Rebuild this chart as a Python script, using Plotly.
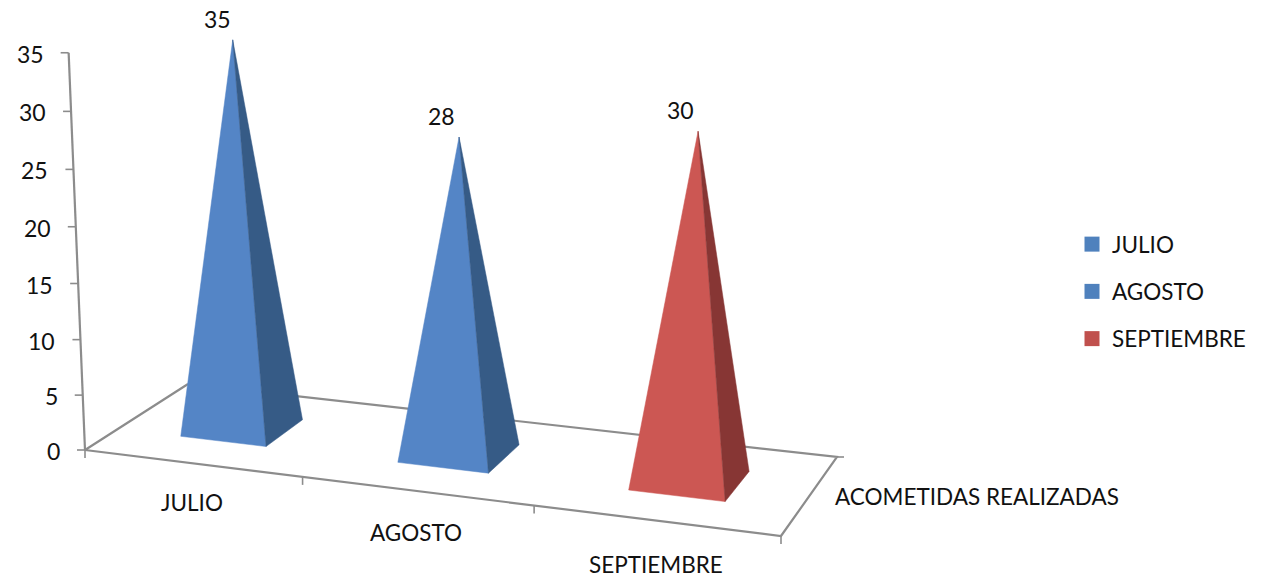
import numpy as np
import plotly.graph_objects as go

# ---- data ----
categories = ["JULIO", "AGOSTO", "SEPTIEMBRE"]
values = [35, 28, 30]
value_ticks = [0, 5, 10, 15, 20, 25, 30, 35]
series_name = "ACOMETIDAS REALIZADAS"
front_colors = ["#5485C6", "#5485C6", "#CC5753"]
side_colors = ["#365B86", "#365B86", "#873634"]
legend_colors = ["#4F81BD", "#4F81BD", "#C0504D"]

# ---- oblique 3D view of the chart box (category, depth, value) -> plot axes ----
FONT = "Lato"
GREY = "#8C8C8C"
TEXT = "#111111"
box_src = [(0, 0), (3, 0), (3, 1), (0, 1)]
box_dst = [(85, 450), (781, 536), (837, 457), (188, 384)]


def _floor_matrix():
    A, b = [], []
    for (s, t), (u, v) in zip(box_src, box_dst):
        A.append([s, t, 1, 0, 0, 0, -u * s, -u * t]); b.append(u)
        A.append([0, 0, 0, s, t, 1, -v * s, -v * t]); b.append(v)
    return np.append(np.linalg.solve(np.array(A, float), np.array(b, float)), 1).reshape(3, 3)


H = _floor_matrix()


def project(cat, depth, value=0.0):
    w = H @ np.array([cat, depth, 1.0])
    u, v = w[0] / w[2], w[1] / w[2]
    lift = value + 0.0011 * value * (value - 35)  # foreshortening of the value axis
    return (u + lift * 0.00125 * (u - 459), v - lift * (11.09 + 0.0118 * (v - 428)))


def line(points, width=2.2):
    xs, ys = zip(*points)
    return go.Scatter(x=xs, y=ys, mode="lines", line=dict(color=GREY, width=width),
                      showlegend=False, hoverinfo="skip")


fig = go.Figure()

# box frame
top = max(value_ticks)
fig.add_trace(line([project(0, 0), project(0, 0, top)]))
fig.add_trace(line([project(0, 1), project(0, 0), project(3, 0), project(3, 1), project(0, 1)]))

# value-axis ticks + labels
for t in value_ticks:
    u, v = project(0, 0, t)
    fig.add_trace(line([(u, v), (u - 8, v)], 1.6))
    fig.add_annotation(x=u, y=v, text=str(t), showarrow=False, xanchor="right", xshift=-23, yshift=-1)

# category ticks + labels
for i in range(4):
    u, v = project(i, 0)
    fig.add_trace(line([(u, v), (u, v + 8)], 1.6))
u, v = project(3, 1)
fig.add_trace(line([(u, v), (u + 7, v)], 1.6))
fig.add_annotation(x=u, y=v, text=series_name, showarrow=False, xanchor="left", xshift=-4, yshift=-39,
                   font=dict(size=22.5))

label_shift = [(0, -39), (-1, -42), (0, -44)]
value_label_dx = [-15, -18, -18]
half_w, half_d = 0.2, 0.195
for i, (cat, val) in enumerate(zip(categories, values)):
    c = i + 0.5
    fl = project(c - half_w, 0.5 - half_d)
    fr = project(c + half_w, 0.5 - half_d)
    br = project(c + half_w, 0.5 + half_d)
    apex = project(c, 0.5, val)
    for pts, col in (((fl, fr, apex), front_colors[i]), ((fr, br, apex), side_colors[i])):
        xs, ys = zip(*pts)
        fig.add_trace(go.Scatter(x=xs + xs[:1], y=ys + ys[:1], mode="lines", fill="toself",
                                 fillcolor=col, line=dict(color=col, width=0.5),
                                 showlegend=False, hoverinfo="skip"))
    fig.add_annotation(x=apex[0], y=apex[1], text=str(val), showarrow=False,
                       xshift=value_label_dx[i], yshift=21)
    u, v = project(c, 0)
    fig.add_annotation(x=u, y=v, text=cat, showarrow=False,
                       xshift=label_shift[i][0], yshift=label_shift[i][1], font=dict(size=22.5))
    fig.add_trace(go.Scatter(x=[None], y=[None], mode="markers", name=cat, legendgroup=cat,
                             marker=dict(symbol="square", size=15, color=legend_colors[i])))

fig.update_layout(
    width=1270, height=577, margin=dict(l=0, r=0, t=0, b=0),
    paper_bgcolor="white", plot_bgcolor="white",
    font=dict(family=FONT, size=23, color=TEXT),
    xaxis=dict(range=[0, 1270], visible=False, fixedrange=True),
    yaxis=dict(range=[577, 0], visible=False, fixedrange=True),
    legend=dict(x=1072 / 1270, y=1 - 223 / 577, xanchor="left", yanchor="top",
                tracegroupgap=15, font=dict(family=FONT, size=22.5, color=TEXT),
                bgcolor="rgba(0,0,0,0)"),
)
fig.write_html("out.html", post_script="document.body.style.margin='0';",
               config=dict(displayModeBar=False))
